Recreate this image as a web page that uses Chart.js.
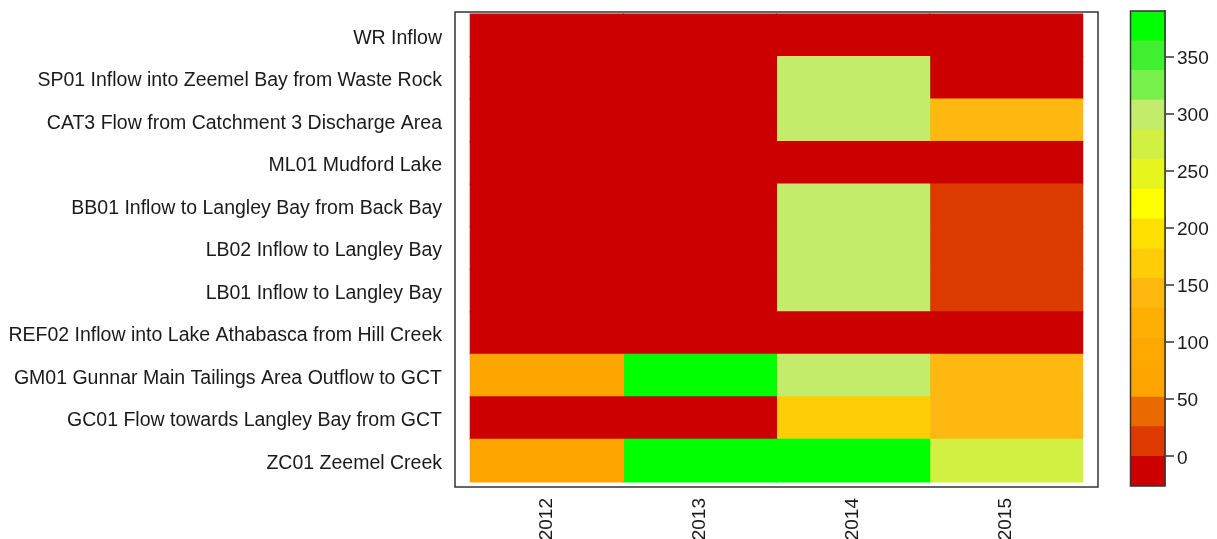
<!DOCTYPE html>
<html>
<head>
<meta charset="utf-8">
<script src="https://cdn.jsdelivr.net/npm/chart.js@4/dist/chart.umd.min.js"></script>
<style>
  body { margin: 0; background: #fff; }
  #wrap { position: relative; width: 1217px; height: 539px; }
  #heat { position: absolute; left: 0; top: 0; }
  #key { position: absolute; left: 1110px; top: 0; }
</style>
</head>
<body>
<div id="wrap">
  <canvas id="heat" width="1110" height="539"></canvas>
  <canvas id="key" width="107" height="539"></canvas>
</div>
<script>
// stations, top row first
const sites = [
    'WR Inflow',
    'SP01 Inflow into Zeemel Bay from Waste Rock',
    'CAT3 Flow from Catchment 3 Discharge Area',
    'ML01 Mudford Lake',
    'BB01 Inflow to Langley Bay from Back Bay',
    'LB02 Inflow to Langley Bay',
    'LB01 Inflow to Langley Bay',
    'REF02 Inflow into Lake Athabasca from Hill Creek',
    'GM01 Gunnar Main Tailings Area Outflow to GCT',
    'GC01 Flow towards Langley Bay from GCT',
    'ZC01 Zeemel Creek'
];
const years = ['2012', '2013', '2014', '2015'];

// one value per station, same order as sites
const v2012 = [0, 0, 0, 0, 0, 0, 0, 0, 65, 0, 65];
const v2013 = [0, 0, 0, 0, 0, 0, 0, 0, 378, 0, 378];
const v2014 = [0, 300, 300, 0, 300, 300, 300, 0, 300, 170, 378];
const v2015 = [0, 0, 145, 0, 10, 10, 10, 0, 145, 145, 270];
const yearValues = [v2012, v2013, v2014, v2015];

// colour key
const breaks = [-26, 0, 26, 52, 78, 104, 130, 156, 182, 208, 234, 260, 286, 312, 338, 364, 390];
const palette = [
    '#cc0000', '#dd3a00', '#eb6a00', '#ffa500', '#ffa800', '#ffae04', '#ffb810', '#ffcc08',
    '#ffe000', '#ffff00', '#e6f51e', '#d2f042', '#c2ec6a', '#78f04c', '#40f030', '#00ff00'
];
const keyTicks = [0, 50, 100, 150, 200, 250, 300, 350];

const FONT = 'Liberation Sans, Arial, Helvetica, sans-serif';
const INK = '#1a1a1a';

function colorFor(v) {
    // right-closed bins like R's cut()
    for (let i = 1; i < breaks.length; i++) {
        if (v <= breaks[i]) return palette[i - 1];
    }
    return palette[palette.length - 1];
}

// box around the plotting area
const frame = {
    id: 'frame',
    afterDatasetsDraw(chart) {
        const a = chart.chartArea;
        const ctx = chart.ctx;
        ctx.save();
        ctx.strokeStyle = '#333';
        ctx.lineWidth = 1.5;
        ctx.strokeRect(a.left, a.top, a.right - a.left, a.bottom - a.top);
        ctx.restore();
    }
};

// labels sit well inside the axis, so no extra room at the ends
function noEndPadding(scale) {
    scale.paddingTop = 0;
    scale.paddingBottom = 0;
}

const n = sites.length;

new Chart(document.getElementById('heat'), {
    type: 'bar',
    data: {
        datasets: yearValues.map((vals, k) => ({
            label: years[k],
            data: vals.map((v, i) => ({ x: [k - 0.5, k + 0.5], y: n - 1 - i })),
            backgroundColor: vals.map(colorFor),
            borderWidth: 0,
            inflateAmount: 0.6,
            grouped: false,
            barPercentage: 1,
            categoryPercentage: 1
        }))
    },
    options: {
        indexAxis: 'y',
        responsive: false,
        animation: false,
        layout: { padding: { top: 12, right: 12, left: 0, bottom: 0 } },
        plugins: { legend: { display: false }, tooltip: { enabled: false } },
        scales: {
            x: {
                type: 'linear',
                min: -0.6,
                max: 3.6,
                grid: { display: false },
                border: { display: false },
                afterBuildTicks(scale) {
                    scale.ticks = years.map((y, k) => ({ value: k }));
                },
                afterFit(scale) { scale.height = 52; },
                ticks: {
                    autoSkip: false,
                    minRotation: 90,
                    maxRotation: 90,
                    padding: 3,
                    color: INK,
                    font: { family: FONT, size: 19 },
                    callback: (v) => years[v]
                }
            },
            y: {
                type: 'linear',
                offset: false,
                min: -0.62,
                max: 10.55,
                grid: { display: false },
                border: { display: false },
                afterBuildTicks(scale) {
                    scale.ticks = sites.map((s, i) => ({ value: n - 1 - i }));
                },
                afterFit(scale) {
                    scale.width = 455;
                    noEndPadding(scale);
                },
                ticks: {
                    autoSkip: false,
                    padding: 5,
                    labelOffset: 3,
                    color: INK,
                    font: { family: FONT, size: 19.5 },
                    callback: (v) => sites[n - 1 - v]
                }
            }
        }
    },
    plugins: [frame]
});

// colour bar
new Chart(document.getElementById('key'), {
    type: 'bar',
    data: {
        labels: [''],
        datasets: palette.map((c, i) => ({
            data: [[breaks[i], breaks[i + 1]]],
            backgroundColor: c,
            borderWidth: 0,
            inflateAmount: 0.3,
            grouped: false,
            barPercentage: 1,
            categoryPercentage: 1
        }))
    },
    options: {
        responsive: false,
        animation: false,
        layout: { padding: { top: 11, bottom: 53, left: 20.5, right: 0 } },
        plugins: { legend: { display: false }, tooltip: { enabled: false } },
        scales: {
            x: { display: false },
            y: {
                position: 'right',
                min: breaks[0],
                max: breaks[breaks.length - 1],
                grid: {
                    drawOnChartArea: false,
                    lineWidth: 0,
                    tickLength: 9,
                    tickWidth: 1.5,
                    tickColor: '#333'
                },
                border: { display: true, color: '#333', width: 1.5 },
                afterBuildTicks(scale) {
                    scale.ticks = keyTicks.map(v => ({ value: v }));
                },
                afterFit(scale) {
                    scale.width = 52;
                    noEndPadding(scale);
                },
                ticks: {
                    padding: 3,
                    labelOffset: 2,
                    color: INK,
                    font: { family: FONT, size: 19 }
                }
            }
        }
    },
    plugins: [frame]
});
</script>
</body>
</html>
